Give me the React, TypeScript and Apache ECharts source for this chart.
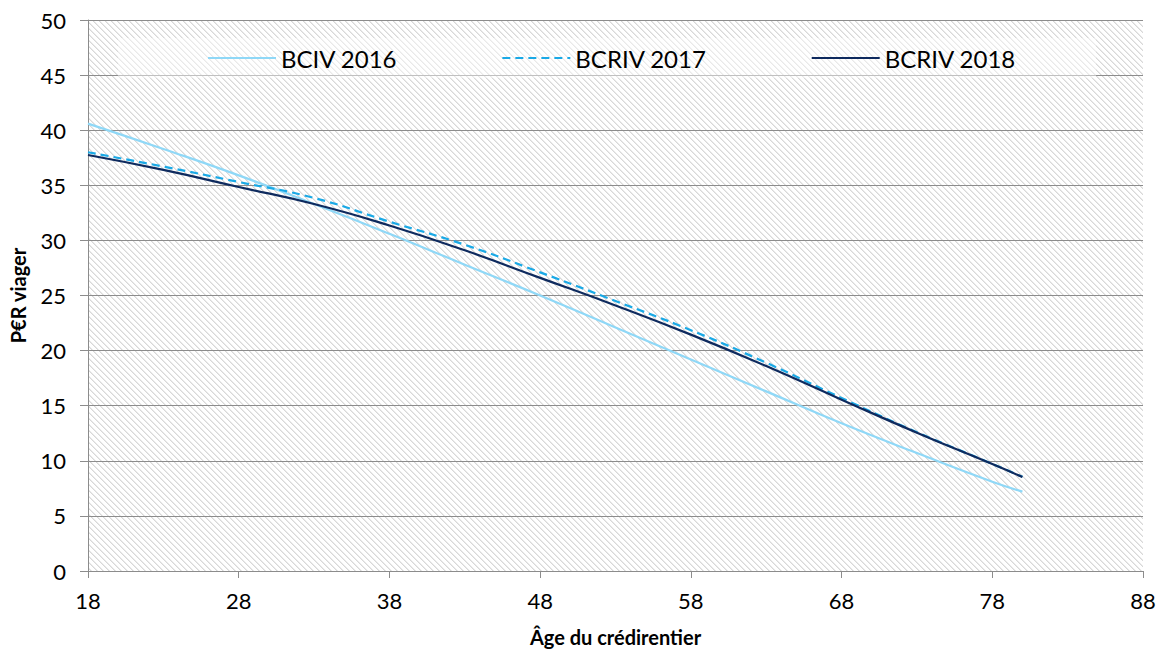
import React, { useEffect, useRef } from "react";
import * as echarts from "echarts";

const ages = [18, 23, 28, 33, 38, 43, 48, 53, 58, 63, 68, 73, 78, 80];
const bciv2016 = [40.6, 38.3, 35.9, 33.3, 30.6, 27.8, 25.0, 22.1, 19.2, 16.3, 13.4, 10.7, 8.1, 7.2];
const bcriv2017 = [38.0, 36.7, 35.3, 33.85, 31.7, 29.6, 27.1, 24.5, 21.85, 18.9, 15.7, 12.6, 9.72, 8.55];
const bcriv2018 = [37.75, 36.4, 34.85, 33.3, 31.35, 29.1, 26.6, 24.1, 21.45, 18.6, 15.55, 12.55, 9.7, 8.53];
const seriesNames = ["BCIV 2016", "BCRIV 2017", "BCRIV 2018"];
const xTitle = "Âge du crédirentier";
const yTitle = "P€R viager";

function makeHatch(): HTMLCanvasElement {
  const P = 6;
  const c = document.createElement("canvas");
  c.width = P;
  c.height = P;
  const ctx = c.getContext("2d")!;
  const img = ctx.createImageData(P, P);
  for (let y = 0; y < P; y++) {
    for (let x = 0; x < P; x++) {
      const d = (((x - y) % P) + P) % P;
      const v = d === 0 ? 216 : d === 1 ? 234 : 255;
      const i = (y * P + x) * 4;
      img.data[i] = v;
      img.data[i + 1] = v;
      img.data[i + 2] = v;
      img.data[i + 3] = 255;
    }
  }
  ctx.putImageData(img, 0, 0);
  return c;
}

export default function App() {
  const ref = useRef<HTMLDivElement>(null);
  useEffect(() => {
    if (!ref.current) return;
    const chart = echarts.init(ref.current, undefined, { renderer: "svg" });
    const hatch = makeHatch();
    const font = "Lato, 'DejaVu Sans', sans-serif";
    const mk = (vals: number[]) => ages.map((a, i) => [a, vals[i]]);
    chart.setOption({
      animation: false,
      backgroundColor: "#ffffff",
      grid: {
        show: true,
        left: 86,
        right: 20,
        top: 20,
        bottom: 86,
        borderWidth: 0,
        backgroundColor: { image: hatch, repeat: "repeat", imageWidth: 6, imageHeight: 6 },
      },
      legend: {
        left: 118,
        top: 38,
        padding: [8, 80, 8, 89],
        backgroundColor: "rgba(255,255,255,0.45)",
        itemWidth: 68,
        itemHeight: 14,
        itemGap: 104,
        itemStyle: { opacity: 0 },
        textStyle: { fontFamily: font, fontSize: 24, color: "#000" },
        data: seriesNames,
      },
      xAxis: {
        type: "value",
        min: 18,
        max: 88,
        interval: 10,
        name: xTitle,
        nameLocation: "middle",
        nameGap: 56,
        nameTextStyle: { fontFamily: font, fontSize: 20, fontWeight: "bold", color: "#000" },
        axisLine: { show: true, lineStyle: { color: "#8c8c8c", width: 1 } },
        axisTick: { show: true, length: 7, lineStyle: { color: "#8c8c8c" } },
        axisLabel: { margin: 18, fontFamily: font, fontSize: 22, color: "#000" },
        splitLine: { show: false },
      },
      yAxis: {
        type: "value",
        min: 0,
        max: 50,
        interval: 5,
        name: yTitle,
        nameLocation: "middle",
        nameGap: 60,
        nameTextStyle: { fontFamily: font, fontSize: 20, fontWeight: "bold", color: "#000" },
        axisLine: { show: true, lineStyle: { color: "#8c8c8c", width: 1 } },
        axisTick: { show: true, length: 8, lineStyle: { color: "#8c8c8c" } },
        axisLabel: { margin: 22, fontFamily: font, fontSize: 22, color: "#000" },
        splitLine: { show: true, lineStyle: { color: "#8c8c8c", width: 1 } },
      },
      series: [
        {
          name: seriesNames[0],
          type: "line",
          data: mk(bciv2016),
          smooth: true,
          symbol: "none",
          lineStyle: { color: "#8fd8f7", width: 2.2 },
          itemStyle: { color: "#8fd8f7" },
        },
        {
          name: seriesNames[1],
          type: "line",
          data: mk(bcriv2017),
          smooth: true,
          symbol: "none",
          lineStyle: { color: "#1aa9e6", width: 2.2, type: [8, 5] },
          itemStyle: { color: "#1aa9e6" },
        },
        {
          name: seriesNames[2],
          type: "line",
          data: mk(bcriv2018),
          smooth: true,
          symbol: "none",
          lineStyle: { color: "#0e2a5e", width: 2.2 },
          itemStyle: { color: "#0e2a5e" },
        },
      ],
    });
    return () => chart.dispose();
  }, []);
  return (
    <div
      ref={ref}
      style={{ position: "fixed", left: 0, top: 0, width: 1163, height: 657, background: "#fff" }}
    />
  );
}
